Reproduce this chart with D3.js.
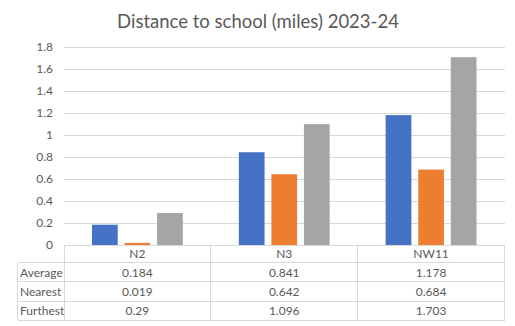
<!DOCTYPE html>
<html><head><meta charset="utf-8">
<script src="https://cdn.jsdelivr.net/npm/d3@7"></script>
<style>body{margin:0;background:#fff}svg{display:block}text{font-family:Lato,"Open Sans",sans-serif}</style>
</head><body>
<svg id="c" width="515" height="326"></svg>
<script>
const categories = ["N2", "N3", "NW11"];
const seriesNames = ["Average", "Nearest", "Furthest"];
const average = [0.184, 0.841, 1.178];
const nearest = [0.019, 0.642, 0.684];
const furthest = [0.29, 1.096, 1.703];
const yTicks = [0, 0.2, 0.4, 0.6, 0.8, 1, 1.2, 1.4, 1.6, 1.8];
const colors = ["#4472C4", "#ED7D31", "#A5A5A5"];
const title = "Distance to school (miles) 2023-24";

const seriesValues = [average, nearest, furthest];
const svg = d3.select("#c");
const L = 64, R = 504.5, T = 46.5, B = 245;
const x0 = d3.scaleBand().domain(categories).range([L, R]).paddingInner(0).paddingOuter(0);
const bw = x0.bandwidth();
const x1 = d3.scaleBand().domain(seriesNames).range([28, bw - 28]).paddingInner(0.21).paddingOuter(0);
const y = d3.scaleLinear().domain([0, 1.8]).range([B, T]);
const textCol = "#595959", gridCol = "#d9d9d9";

svg.append("text").attr("x", 258).attr("y", 28).attr("text-anchor", "middle")
  .attr("font-size", 18.5).attr("fill", textCol).text(title);

// grid
const yAxis = d3.axisLeft(y).tickValues(yTicks).tickSize(-(R - L)).tickPadding(11)
  .tickFormat(d => String(d));
const ga = svg.append("g").attr("transform", `translate(${L},0)`).call(yAxis);
ga.select(".domain").remove();
ga.selectAll(".tick line").attr("stroke", gridCol).attr("shape-rendering", "crispEdges");
ga.selectAll(".tick text").attr("fill", textCol).attr("font-size", 12).attr("font-family", "Lato, sans-serif");

// bars
const g = svg.append("g");
categories.forEach((c, i) => {
  seriesNames.forEach((s, j) => {
    const v = seriesValues[j][i];
    g.append("rect").attr("x", x0(c) + x1(s)).attr("width", x1.bandwidth())
      .attr("y", y(v)).attr("height", y(0) - y(v)).attr("fill", colors[j]);
  });
});

// table
const rowH = 19.2;
const headTop = B, headBot = 262.7;
const tableLeft = 17.5;
const lines = svg.append("g").attr("stroke", gridCol).attr("stroke-width", 1).attr("shape-rendering", "crispEdges");
// axis line / header top
lines.append("line").attr("x1", L).attr("x2", R).attr("y1", B).attr("y2", B);
// header bottom + row lines
const rowTops = seriesNames.map((s, j) => headBot + j * rowH);
const tableBot = headBot + seriesNames.length * rowH;
[headBot, ...rowTops.slice(1), tableBot].forEach(yy => {
  lines.append("line").attr("x1", tableLeft).attr("x2", R).attr("y1", yy).attr("y2", yy);
});
// verticals
lines.append("line").attr("x1", tableLeft).attr("x2", tableLeft).attr("y1", headBot).attr("y2", tableBot);
[L, ...categories.map(c => x0(c) + bw)].forEach(xx => {
  lines.append("line").attr("x1", xx).attr("x2", xx).attr("y1", B).attr("y2", tableBot);
});

const tg = svg.append("g").attr("fill", textCol).attr("font-size", 12);
categories.forEach(c => {
  tg.append("text").attr("x", x0(c) + bw / 2).attr("y", (B + headBot) / 2 + 4.5)
    .attr("text-anchor", "middle").text(c);
});
seriesNames.forEach((s, j) => {
  const cy = rowTops[j] + rowH / 2 + 4.5;
  tg.append("text").attr("x", 20).attr("y", cy).text(s);
  categories.forEach((c, i) => {
    tg.append("text").attr("x", x0(c) + bw / 2).attr("y", cy).attr("text-anchor", "middle")
      .text(String(seriesValues[j][i]));
  });
});
</script>
</body></html>
